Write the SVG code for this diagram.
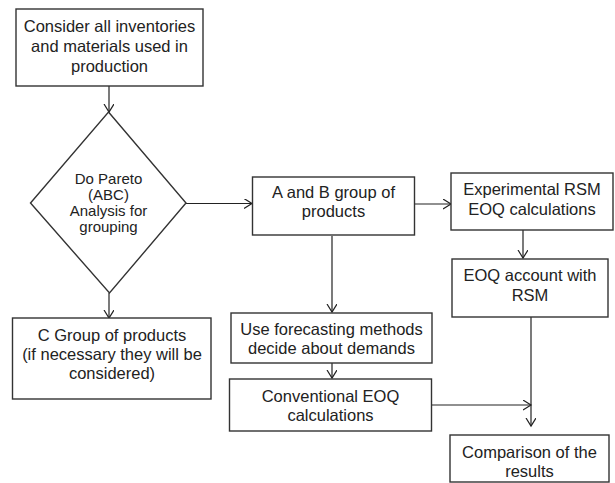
<svg xmlns="http://www.w3.org/2000/svg" width="615" height="483" viewBox="0 0 615 483">
<defs>
<style>
.box{fill:#fff;stroke:#333;stroke-width:1.4}
.t{font-family:"Liberation Sans",Arial,sans-serif;font-size:16.5px;fill:#222;text-anchor:middle}
.d{font-size:15px}
.c{stroke:#222;stroke-width:1.2;fill:none}
</style>
<marker id="ah" markerUnits="userSpaceOnUse" markerWidth="12" markerHeight="12" refX="8" refY="5" orient="auto" viewBox="0 0 12 12">
<path d="M0,0 L8,5 L0,10" fill="none" stroke="#222" stroke-width="1.2"/>
</marker>
</defs>
<rect width="615" height="483" fill="#fff"/>
<g id="connectors">
<line class="c" x1="109" y1="86" x2="109" y2="112" marker-end="url(#ah)"/>
<line class="c" x1="109" y1="293" x2="109" y2="318" marker-end="url(#ah)"/>
<line class="c" x1="186" y1="203.5" x2="252" y2="203.5" marker-end="url(#ah)"/>
<line class="c" x1="415" y1="204" x2="451" y2="204" marker-end="url(#ah)"/>
<line class="c" x1="523" y1="230" x2="523" y2="258" marker-end="url(#ah)"/>
<line class="c" x1="332" y1="236" x2="332" y2="312" marker-end="url(#ah)"/>
<line class="c" x1="332" y1="363" x2="332" y2="378" marker-end="url(#ah)"/>
<line class="c" x1="432" y1="405" x2="531" y2="405" marker-end="url(#ah)"/>
<line class="c" x1="531" y1="317" x2="531" y2="426" marker-end="url(#ah)"/>
</g>
<g id="n1">
<rect class="box" x="16" y="9" width="187" height="77"/>
<text class="t" x="109.5" y="31.5">Consider all inventories</text>
<text class="t" x="109.5" y="51.5">and materials used in</text>
<text class="t" x="109.5" y="71.5">production</text>
</g>
<g id="n2">
<polygon class="box" points="108.5,112 186,203 109.5,293 30.5,203"/>
<text class="t d" x="108.5" y="184">Do Pareto</text>
<text class="t d" x="108.5" y="200">(ABC)</text>
<text class="t d" x="108.5" y="216">Analysis for</text>
<text class="t d" x="108.5" y="232">grouping</text>
</g>
<g id="n3">
<rect class="box" x="12.5" y="318" width="198.5" height="81"/>
<text class="t" x="112" y="341">C Group of products</text>
<text class="t" x="112" y="360">(if necessary they will be</text>
<text class="t" x="112" y="379">considered)</text>
</g>
<g id="n4">
<rect class="box" x="252.5" y="177" width="162" height="58"/>
<text class="t" x="333.5" y="198">A and B group of</text>
<text class="t" x="333.5" y="217">products</text>
</g>
<g id="n5">
<rect class="box" x="451" y="173" width="162" height="57"/>
<text class="t" x="532" y="195">Experimental RSM</text>
<text class="t" x="532" y="215">EOQ calculations</text>
</g>
<g id="n6">
<rect class="box" x="452" y="259" width="156" height="58"/>
<text class="t" x="530" y="281">EOQ account with</text>
<text class="t" x="530" y="301">RSM</text>
</g>
<g id="n7">
<rect class="box" x="231" y="313" width="201" height="50"/>
<text class="t" x="331.5" y="335">Use forecasting methods</text>
<text class="t" x="331.5" y="354">decide about demands</text>
</g>
<g id="n8">
<rect class="box" x="229.5" y="379" width="202" height="52"/>
<text class="t" x="330.5" y="402">Conventional EOQ</text>
<text class="t" x="330.5" y="421">calculations</text>
</g>
<g id="n9">
<rect class="box" x="450" y="435" width="159" height="47"/>
<text class="t" x="529.5" y="458">Comparison of the</text>
<text class="t" x="529.5" y="477">results</text>
</g>
</svg>
